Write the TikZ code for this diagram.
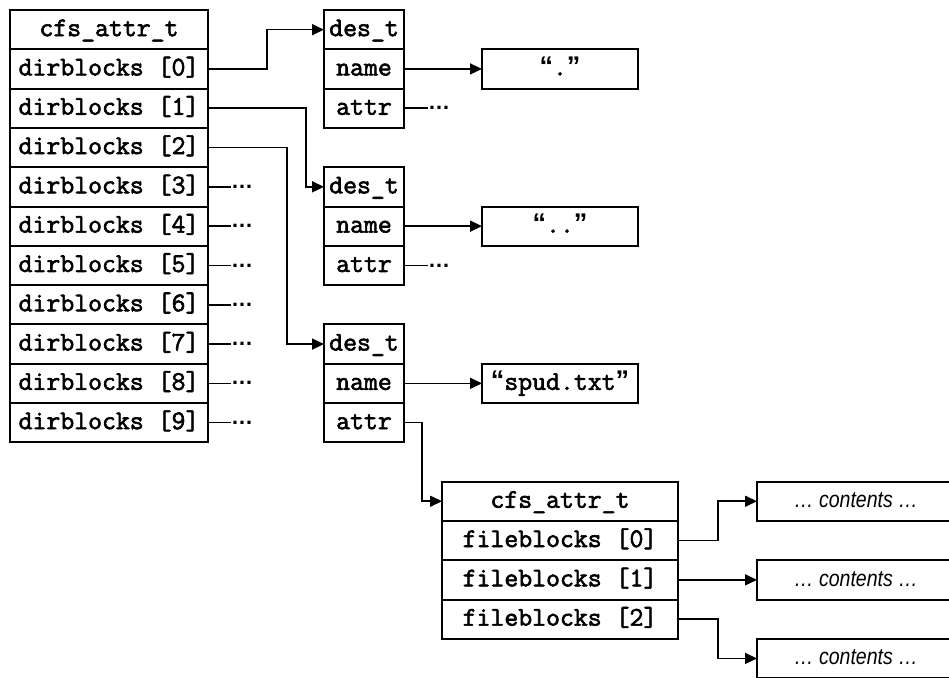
\documentclass[tikz,border=0pt]{standalone}
\usepackage{fontspec}
\setmainfont{Liberation Sans}
\setmonofont{Latin Modern Mono}[FakeBold=2.2]
\newfontfamily\contfont{Liberation Sans}[FakeStretch=0.85]
\newcommand{\openq}{{\rmfamily\bfseries “}}
\newcommand{\closeq}{{\rmfamily\bfseries ”}}
\usetikzlibrary{arrows.meta,positioning}
\tikzset{
  cell/.style={draw,line width=2pt,outer sep=0pt,inner sep=0pt,minimum height=39.3pt,
               text height=17pt,text depth=4pt,font=\ttfamily\fontsize{27}{29}\selectfont},
  dirrow/.style={cell,minimum width=198pt},
  desrow/.style={cell,minimum width=80pt},
  strbox/.style={cell,minimum width=156pt},
  filerow/.style={cell,minimum width=236pt},
  contbox/.style={cell,minimum width=198pt,font=\contfont\itshape\fontsize{23}{25}\selectfont},
  more/.style={inner sep=0pt,outer sep=0pt,font=\bfseries\fontsize{22}{24}\selectfont},
  ptr/.style={-{Triangle[length=12pt,width=11pt]},line width=1.6pt},
  stub/.style={line width=1.6pt}
}
\begin{document}
\begin{tikzpicture}[x=1pt,y=-1pt]
  \useasboundingbox (0,0) rectangle (949,677);
  \clip (0,0) rectangle (949,677);
  % directory attribute table
  \node[dirrow,anchor=north west] (cfsA) at (10,10) {cfs\_attr\_t};
  \node[dirrow,below=0pt of cfsA] (d0) {dirblocks [0]};
  \foreach \i [count=\j from 0] in {1,...,9}
    \node[dirrow,below=0pt of d\j] (d\i) {dirblocks [\i]};
  \foreach \i in {3,...,9} {
    \node[more,right=23pt of d\i] (m\i) {\ldots};
    \draw[stub] (d\i) -- (m\i);
  }
  % directory entries
  \node[desrow,right=116pt of cfsA] (desA) {des\_t};
  \node[desrow,below=0pt of desA] (desAname) {name};
  \node[desrow,below=0pt of desAname] (desAattr) {attr};
  \node[desrow,right=116pt of d3] (desB) {des\_t};
  \node[desrow,below=0pt of desB] (desBname) {name};
  \node[desrow,below=0pt of desBname] (desBattr) {attr};
  \node[desrow,right=116pt of d7] (desC) {des\_t};
  \node[desrow,below=0pt of desC] (desCname) {name};
  \node[desrow,below=0pt of desCname] (desCattr) {attr};
  \node[strbox,right=78pt of desAname] (strA) {\openq.\closeq};
  \node[strbox,right=78pt of desBname] (strB) {\openq..\closeq};
  \node[strbox,right=78pt of desCname] (strC) {\openq spud.txt\closeq};
  \node[more,right=24pt of desAattr] (mA) {\ldots};
  \node[more,right=24pt of desBattr] (mB) {\ldots};
  % file attribute table
  \node[filerow,anchor=north west] (cfsB) at (442,481.6) {cfs\_attr\_t};
  \node[filerow,below=0pt of cfsB] (f0) {fileblocks [0]};
  \node[filerow,below=0pt of f0] (f1) {fileblocks [1]};
  \node[filerow,below=0pt of f1] (f2) {fileblocks [2]};
  \node[contbox,right=79pt of cfsB] (contA) {\ldots\ contents \ldots};
  \node[contbox,right=79pt of f1] (contB) {\ldots\ contents \ldots};
  \node[contbox,below=39.3pt of contB] (contC) {\ldots\ contents \ldots};
  % pointers
  \draw[ptr] (d0.east) -- ++(59,0) |- (desA.west);
  \draw[ptr] (d1.east) -- ++(98,0) |- (desB.west);
  \draw[ptr] (d2.east) -- ++(79,0) |- (desC.west);
  \draw[ptr] (desAname) -- (strA);
  \draw[ptr] (desBname) -- (strB);
  \draw[ptr] (desCname) -- (strC);
  \draw[stub] (desAattr) -- (mA);
  \draw[stub] (desBattr) -- (mB);
  \draw[ptr] (desCattr.east) -- ++(18,0) |- (cfsB.west);
  \draw[ptr] (f0.east) -- ++(40,0) |- (contA.west);
  \draw[ptr] (f1) -- (contB);
  \draw[ptr] (f2.east) -- ++(40,0) |- (contC.west);
\end{tikzpicture}
\end{document}
